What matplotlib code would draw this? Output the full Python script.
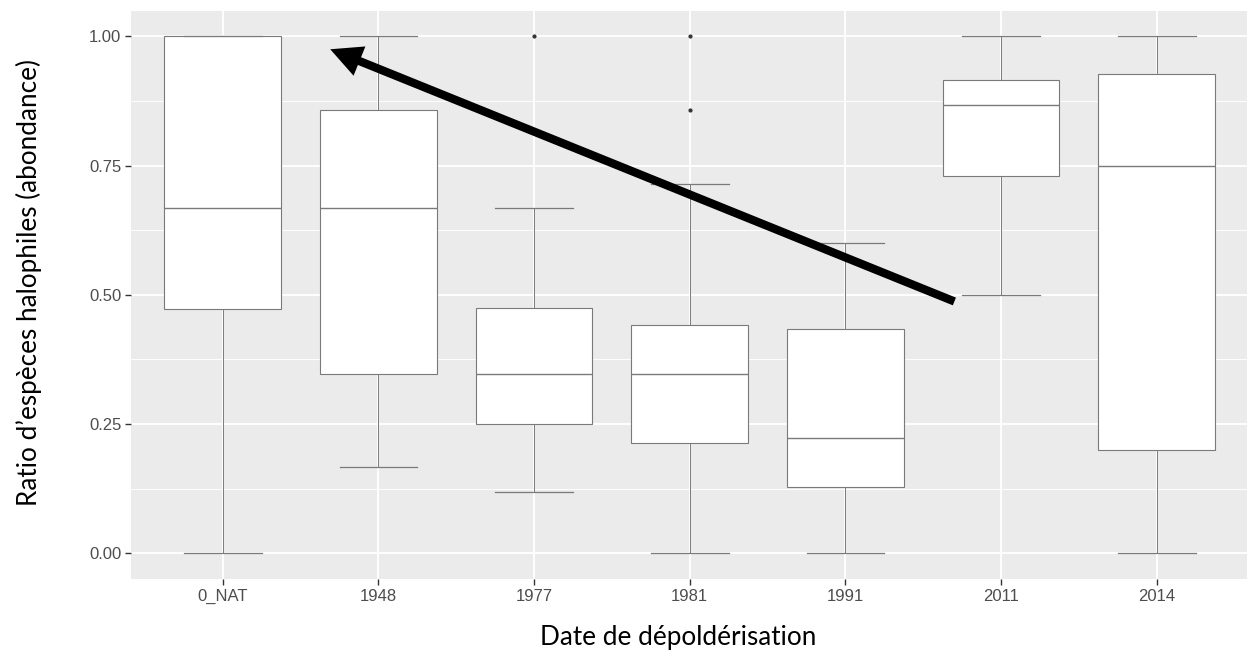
import matplotlib
matplotlib.use("Agg")
import matplotlib.pyplot as plt
from matplotlib.ticker import FixedLocator

categories = ["0_NAT", "1948", "1977", "1981", "1991", "2011", "2014"]
whis_lo = [0.0, 0.167, 0.118, 0.0, 0.0, 0.50, 0.0]
q1 = [0.472, 0.347, 0.249, 0.213, 0.128, 0.730, 0.200]
median = [0.667, 0.667, 0.347, 0.346, 0.222, 0.867, 0.750]
q3 = [1.0, 0.857, 0.475, 0.441, 0.434, 0.915, 0.928]
whis_hi = [1.0, 1.0, 0.667, 0.714, 0.600, 1.0, 1.0]
outliers = [[], [], [1.0], [1.0, 0.857], [], [], []]

y_ticks = [0.00, 0.25, 0.50, 0.75, 1.00]
y_tick_labels = ["0.00", "0.25", "0.50", "0.75", "1.00"]

W, H = 1247, 654
fig = plt.figure(figsize=(W / 100, H / 100), dpi=100)
ax = fig.add_axes([131 / W, 1 - 579 / H, (W - 131) / W, (579 - 10.5) / H])
ax.set_facecolor("#EBEBEB")

positions = list(range(1, len(categories) + 1))
stats = []
for i in range(len(categories)):
    stats.append(dict(med=median[i], q1=q1[i], q3=q3[i], whislo=whis_lo[i],
                      whishi=whis_hi[i], fliers=outliers[i]))

edge = "#7a7a7a"
ax.bxp(stats, positions=positions, widths=0.75, patch_artist=True,
       capwidths=0.5,
       boxprops=dict(facecolor="white", edgecolor=edge, linewidth=0.8),
       medianprops=dict(color=edge, linewidth=1.0),
       whiskerprops=dict(color=edge, linewidth=0.7),
       capprops=dict(color=edge, linewidth=0.9),
       flierprops=dict(marker="o", markersize=2.0, markerfacecolor="#333333",
                       markeredgecolor="#333333"),
       zorder=3)

ax.set_xlim(0.41, 7.58)
ax.set_ylim(-0.05, 1.05)
ax.yaxis.set_major_locator(FixedLocator(y_ticks))
ax.set_yticklabels(y_tick_labels)
ax.yaxis.set_minor_locator(FixedLocator([0.125, 0.375, 0.625, 0.875]))
ax.set_xticks(positions)
ax.set_xticklabels(categories)

ax.grid(which="major", color="white", linewidth=1.3, zorder=0)
ax.grid(which="minor", axis="y", color="white", linewidth=0.65, zorder=0)
ax.set_axisbelow(True)
for s in ax.spines.values():
    s.set_visible(False)

ax.tick_params(axis="both", which="major", length=4, width=1.0, color="#333333",
               labelcolor="#4D4D4D", labelsize=12, pad=3,
               labelfontfamily="Liberation Sans")
ax.tick_params(axis="both", which="minor", length=0)

ax.set_xlabel("Date de dépoldérisation", fontsize=18.8, family="Lato",
              color="black", va="center", ha="center")
ax.xaxis.set_label_coords((678 - 131) / 1116, (579 - 637) / 568.5)
ax.set_ylabel("Ratio d\u2019espèces halophiles (abondance)", fontsize=18.8,
              family="Lato", color="black", va="center", ha="center")
ax.yaxis.set_label_coords((29 - 131) / 1116, (579 - 283) / 568.5)

ax.annotate("", xy=(1.69, 0.975), xytext=(5.70, 0.487),
            arrowprops=dict(arrowstyle="-|>,head_length=1.3,head_width=0.65",
                            color="black", lw=6, shrinkA=0, shrinkB=0,
                            capstyle="butt", joinstyle="miter"),
            zorder=5)

fig.savefig("out.png", dpi=100)
